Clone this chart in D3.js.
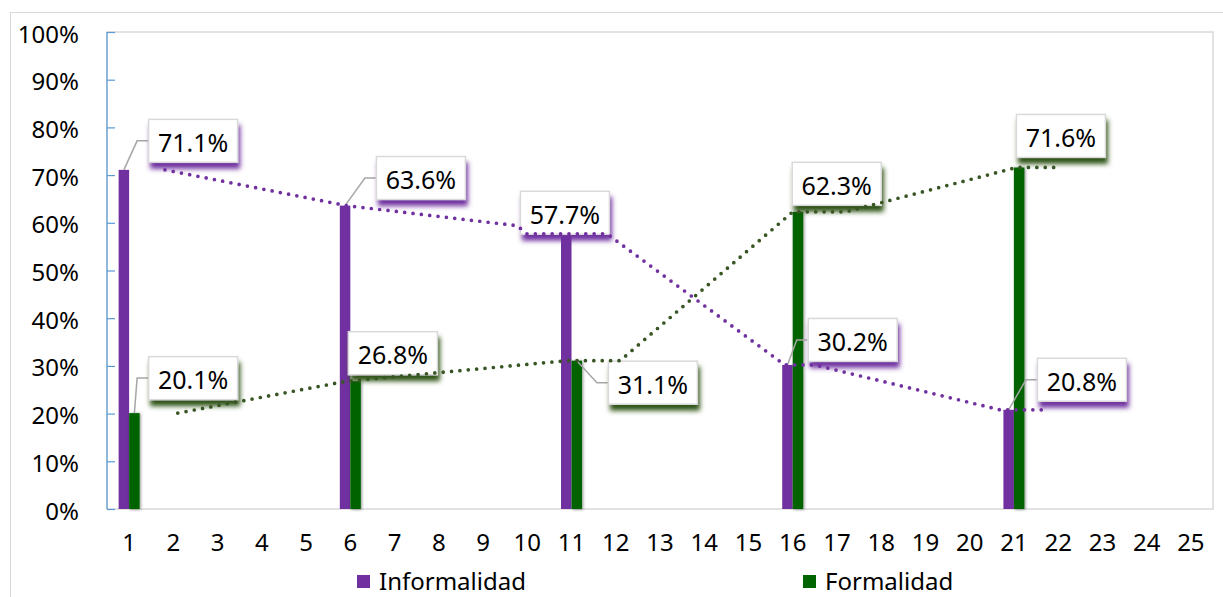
<!DOCTYPE html>
<html>
<head>
<meta charset="utf-8">
<script src="https://cdn.jsdelivr.net/npm/d3@7"></script>
<style>
  html, body { margin: 0; padding: 0; background: #fff; }
  svg { display: block; font-family: "Noto Sans", "Open Sans", sans-serif; }
</style>
</head>
<body>
<svg id="chart" width="1223" height="597"></svg>
<script>
// Category axis labels and y tick values
const categories = [1, 2, 3, 4, 5, 6, 7, 8, 9, 10, 11, 12, 13, 14, 15, 16, 17, 18, 19, 20, 21, 22, 23, 24, 25];
const yTicks = [0, 10, 20, 30, 40, 50, 60, 70, 80, 90, 100];

// Bar series (percent)
const barCategories = [1, 6, 11, 16, 21];
const informalidad = [71.1, 63.6, 57.7, 30.2, 20.8];
const formalidad = [20.1, 26.8, 31.1, 62.3, 71.6];

// Dotted trend paths: category position and value of each vertex
const informalTrendPos = [1.81, 5.92, 9.77, 9.99, 11.8, 15.82, 16.5, 20.68, 21.77];
const informalTrendVal = [71.1, 63.6, 59.4, 57.7, 57.7, 30.2, 30.2, 20.8, 20.8];
const formalTrendPos = [2.1, 5.92, 10.9, 12.1, 16.0, 17.2, 21.06, 22.08];
const formalTrendVal = [20.1, 26.8, 31.1, 31.1, 62.3, 62.3, 71.6, 71.6];

// Label box placement (pixel offsets from category centre / value height)
const informalLabelDx = [19, 25.6, -51.6, 15, 23];
const informalLabelDy = [-51, -49.6, -43, -47, -52];
const informalLeader = [true, true, false, true, true];
const formalLabelDx = [19, -2.4, 36.4, -1, 2];
const formalLabelDy = [-57, -50, 0, -50, -53.5];
const formalLeader = [true, false, true, false, false];

const PURPLE = "#7030a0";
const GREEN = "#006400";
const GREEN_LINE = "#375623";

const svg = d3.select("#chart");
const plot = { left: 107, right: 1213, top: 32, bottom: 509 };

const x = d3.scaleBand().domain(categories).range([plot.left, plot.right]).padding(0);
const xPos = d3.scaleLinear().domain([0.5, 25.5]).range([plot.left, plot.right]);
const y = d3.scaleLinear().domain([0, 100]).range([plot.bottom, plot.top]);
const barW = 10.5;
const cx = c => x(c) + x.bandwidth() / 2;

// Filters
const defs = svg.append("defs");
function shadow(id, color, dx, dy, sd, op) {
  const f = defs.append("filter").attr("id", id)
    .attr("x", "-30%").attr("y", "-30%").attr("width", "160%").attr("height", "180%");
  f.append("feDropShadow").attr("dx", dx).attr("dy", dy).attr("stdDeviation", sd)
    .attr("flood-color", color).attr("flood-opacity", op);
}
shadow("shPurple", PURPLE, 2, 6, 2.5, 1);
shadow("shGreen", "#2f5218", 2, 6, 2.5, 1);
shadow("shBar", "#000", 1, 0.5, 1.4, 0.45);

// Outer frame
svg.append("rect").attr("x", 10.5).attr("y", 12.5).attr("width", 1300).attr("height", 700)
  .attr("fill", "none").attr("stroke", "#d9d9d9").attr("stroke-width", 1);

// Plot area border
svg.append("rect").attr("x", plot.left).attr("y", plot.top)
  .attr("width", plot.right - plot.left).attr("height", plot.bottom - plot.top)
  .attr("fill", "none").attr("stroke", "#d9d9d9").attr("stroke-width", 1.5);

// Y axis (ticks inside the plot)
const yAxis = svg.append("g").attr("transform", `translate(${plot.left},0)`)
  .call(d3.axisRight(y).tickValues(yTicks).tickSize(8).tickFormat(""));
yAxis.selectAll("path,line").attr("stroke", "#5b9bd5").attr("stroke-width", 1.2);
yAxis.select(".domain").attr("d", `M0,${plot.top}V${plot.bottom}`);

svg.append("g").selectAll("text").data(yTicks).join("text")
  .attr("x", 79).attr("y", d => y(d) + 1)
  .attr("text-anchor", "end").attr("dominant-baseline", "central")
  .attr("font-size", 24).attr("fill", "#000")
  .text(d => d + "%");

// X axis labels
const xAxis = svg.append("g").attr("transform", `translate(0,${plot.bottom})`)
  .call(d3.axisBottom(x).tickSize(0).tickPadding(25));
xAxis.select(".domain").remove();
xAxis.selectAll("text").attr("font-size", 24).attr("fill", "#000")
  .attr("font-family", "Noto Sans, Open Sans, sans-serif");

// Bars
const rows = barCategories.map((c, i) => ({ c, inf: informalidad[i], form: formalidad[i], i }));
svg.append("g").selectAll("rect").data(rows).join("rect")
  .attr("x", d => cx(d.c) - barW).attr("width", barW)
  .attr("y", d => y(d.inf)).attr("height", d => y(0) - y(d.inf))
  .attr("fill", PURPLE);
svg.append("g").selectAll("rect").data(rows).join("rect")
  .attr("x", d => cx(d.c)).attr("width", barW)
  .attr("y", d => y(d.form)).attr("height", d => y(0) - y(d.form))
  .attr("fill", GREEN).attr("filter", "url(#shBar)");

// Data labels with leader lines
const boxW = 90, boxH = 44;
function labels(values, dxs, dys, leaders, barOffset, filterId) {
  const g = svg.append("g");
  values.forEach((v, i) => {
    const c = barCategories[i];
    const bx = cx(c) + dxs[i];
    const by = y(v) + dys[i];
    const mid = by + boxH / 2;
    if (leaders[i]) {
      const sx = cx(c) + barOffset;
      g.append("path")
        .attr("d", `M${sx},${y(v)}L${bx - 11},${mid}H${bx}`)
        .attr("fill", "none").attr("stroke", "#a6a6a6").attr("stroke-width", 1.5);
    }
    g.append("rect").attr("x", bx).attr("y", by).attr("width", boxW).attr("height", boxH)
      .attr("fill", "#fff").attr("filter", `url(#${filterId})`);
    g.append("rect").attr("x", bx + 0.5).attr("y", by + 0.5).attr("width", boxW - 1).attr("height", boxH - 1)
      .attr("fill", "#fff").attr("stroke", "#d9d9d9").attr("stroke-width", 1.5);
    g.append("text").attr("x", bx + boxW / 2).attr("y", mid + 1)
      .attr("text-anchor", "middle").attr("dominant-baseline", "central")
      .attr("font-size", 25).attr("fill", "#000")
      .text(v.toFixed(1) + "%");
  });
}
labels(informalidad, informalLabelDx, informalLabelDy, informalLeader, -barW / 2, "shPurple");
labels(formalidad, formalLabelDx, formalLabelDy, formalLeader, barW / 2, "shGreen");

// Dotted trend lines
const line = d3.line().x(d => xPos(d[0])).y(d => y(d[1]));
function trend(pos, vals, color) {
  svg.append("path").datum(pos.map((p, i) => [p, vals[i]]))
    .attr("d", line).attr("fill", "none").attr("stroke", color)
    .attr("stroke-width", 3.7).attr("stroke-linecap", "round")
    .attr("stroke-dasharray", "0 8.4");
}
trend(informalTrendPos, informalTrendVal, PURPLE);
trend(formalTrendPos, formalTrendVal, GREEN_LINE);

// Legend
const legend = [
  { name: "Informalidad", color: PURPLE, x: 357 },
  { name: "Formalidad", color: GREEN, x: 803 }
];
const lg = svg.append("g").selectAll("g").data(legend).join("g");
lg.append("rect").attr("x", d => d.x).attr("y", 575).attr("width", 13).attr("height", 13)
  .attr("fill", d => d.color);
lg.append("text").attr("x", d => d.x + 22).attr("y", 580)
  .attr("dominant-baseline", "central").attr("font-size", 24).attr("fill", "#000")
  .text(d => d.name);
</script>
</body>
</html>
